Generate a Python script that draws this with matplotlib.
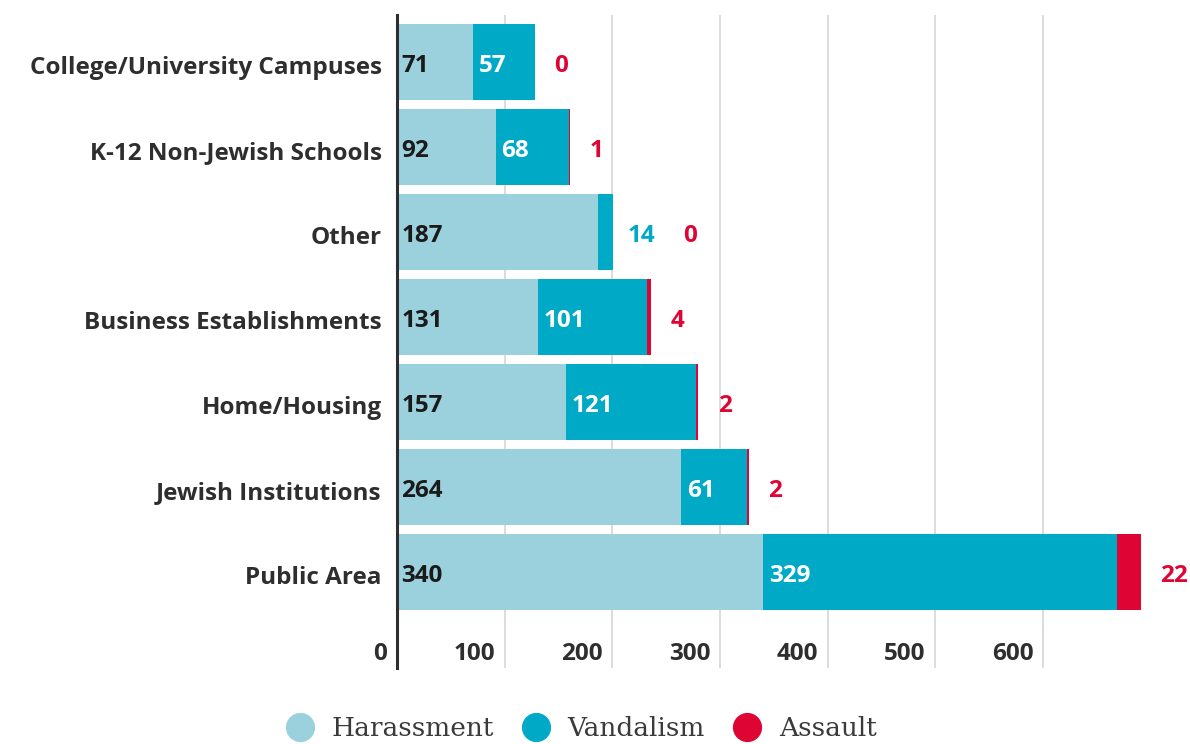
import matplotlib.pyplot as plt
import matplotlib.transforms as mtransforms
from matplotlib.lines import Line2D

categories = ["Public Area", "Jewish Institutions", "Home/Housing",
              "Business Establishments", "Other", "K-12 Non-Jewish Schools",
              "College/University Campuses"]
harassment = [340, 264, 157, 131, 187, 92, 71]
vandalism = [329, 61, 121, 101, 14, 68, 57]
assault = [22, 2, 2, 4, 0, 1, 0]
xticks = [0, 100, 200, 300, 400, 500, 600]

C_HAR = "#9BD0DD"
C_VAN = "#00AAC7"
C_ASS = "#DE0535"
DARK = "#2e2e2e"

plt.rcParams["font.family"] = ["Open Sans", "DejaVu Sans"]
FS = 17.5


def main():
    fig = plt.figure(figsize=(11.9, 7.44), dpi=100)
    ax = fig.add_axes([397 / 1190, 1 - 668 / 744, 744 / 1190, 653 / 744])

    ys = list(range(len(categories)))
    h = 0.89
    left2 = harassment
    left3 = [a + b for a, b in zip(harassment, vandalism)]
    ax.barh(ys, harassment, height=h, color=C_HAR, zorder=2)
    ax.barh(ys, vandalism, left=left2, height=h, color=C_VAN, zorder=2)
    ax.barh(ys, assault, left=left3, height=h, color=C_ASS, zorder=2)

    lab = dict(fontsize=FS, fontweight="bold", va="center", ha="left",
               textcoords="offset points")
    dy = -3
    for y, a, b, c in zip(ys, harassment, vandalism, assault):
        ax.annotate(str(a), (0, y), xytext=(3, dy), color="#1a1a1a", **lab)
        total = a + b + c
        if b >= 40:
            ax.annotate(str(b), (a, y), xytext=(4, dy), color="white", **lab)
            ax.annotate(str(c), (total, y), xytext=(14, dy), color=C_ASS, **lab)
        else:
            ax.annotate(str(b), (total, y), xytext=(10, dy), color=C_VAN, **lab)
            ax.annotate(str(c), (total, y), xytext=(50, dy), color=C_ASS, **lab)

    ax.set_xlim(0, 691)
    ax.set_ylim(-1.13, 6.553)
    ax.set_yticks(ys)
    ax.set_yticklabels(categories, fontsize=FS, fontweight="bold", color=DARK)
    ax.set_xticks(xticks)
    ax.set_xticklabels([str(t) for t in xticks], fontsize=FS,
                       fontweight="bold", color=DARK, ha="right")
    ax.tick_params(axis="x", length=0, pad=-19)
    ax.tick_params(axis="y", length=0, pad=11)
    shift = mtransforms.ScaledTranslation(-7 / 72, 0, fig.dpi_scale_trans)
    for t in ax.get_xticklabels():
        t.set_transform(t.get_transform() + shift)
    down = mtransforms.ScaledTranslation(0, -2 / 72, fig.dpi_scale_trans)
    for t in ax.get_yticklabels():
        t.set_transform(t.get_transform() + down)

    ax.grid(axis="x", color="#d6d6d6", linewidth=1.2, zorder=0)
    for s in ["top", "right", "bottom"]:
        ax.spines[s].set_visible(False)
    ax.spines["left"].set_color(DARK)
    ax.spines["left"].set_linewidth(2.2)
    ax.spines["left"].set_zorder(3)

    handles = [Line2D([], [], marker="o", linestyle="", markersize=20,
                      markerfacecolor=c, markeredgecolor=c)
               for c in (C_HAR, C_VAN, C_ASS)]
    fig.legend(handles, ["Harassment", "Vandalism", "Assault"],
               loc="center", bbox_to_anchor=(575 / 1190, 1 - 729 / 744),
               ncol=3, frameon=False, handletextpad=0.2, columnspacing=0.6,
               prop={"family": "DejaVu Serif", "size": 19}, labelcolor="#3a3a3a")

    fig.savefig("out.png", dpi=100)


if __name__ == "__main__":
    main()
